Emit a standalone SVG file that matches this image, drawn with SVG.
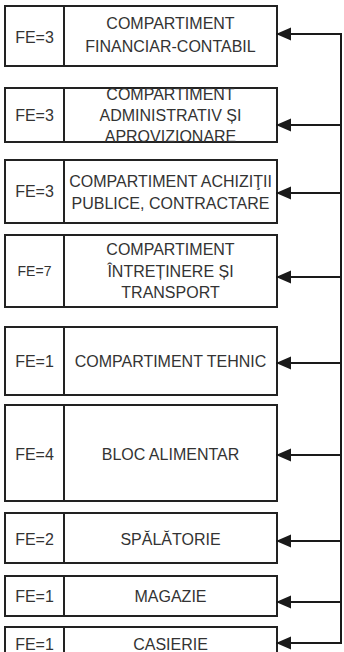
<svg xmlns="http://www.w3.org/2000/svg" width="344" height="652" viewBox="0 0 344 652">
<defs>
<marker id="ah" markerWidth="16" markerHeight="14" refX="15" refY="7" orient="auto" markerUnits="userSpaceOnUse">
<path d="M0,0.5 L15,7 L0,13.5 Z" fill="#1a1a1a"/>
</marker>
<style>
.box{fill:#fff;stroke:#222;stroke-width:2}
.div{stroke:#222;stroke-width:2}
.t{font-family:"Liberation Sans",Arial,sans-serif;font-size:16px;fill:#333;text-anchor:middle}
.fe{font-family:"Liberation Sans",Arial,sans-serif;font-size:16px;fill:#333;text-anchor:middle}
.con{stroke:#1a1a1a;stroke-width:2;fill:none}
</style>
</defs>
<rect width="344" height="652" fill="#fff"/>
<g id="n1"><rect class="box" x="5" y="6" width="272" height="60"/><line class="div" x1="64" y1="6" x2="64" y2="66"/><text class="fe" x="34.5" y="43">FE=3</text><text class="t" x="170.5" y="29">COMPARTIMENT</text><text class="t" x="170.5" y="52">FINANCIAR-CONTABIL</text></g>
<g id="n2"><rect class="box" x="5" y="88" width="272" height="54"/><line class="div" x1="64" y1="88" x2="64" y2="142"/><text class="fe" x="34.5" y="121">FE=3</text><text class="t" x="170.5" y="100">COMPARTIMENT</text><text class="t" x="170.5" y="121">ADMINISTRATIV ȘI</text><text class="t" x="170.5" y="142">APROVIZIONARE</text></g>
<g id="n3"><rect class="box" x="5" y="160" width="272" height="63"/><line class="div" x1="64" y1="160" x2="64" y2="223"/><text class="fe" x="34.5" y="197">FE=3</text><text class="t" x="170.5" y="187">COMPARTIMENT ACHIZIŢII</text><text class="t" x="170.5" y="209">PUBLICE, CONTRACTARE</text></g>
<g id="n4"><rect class="box" x="5" y="235" width="272" height="72"/><line class="div" x1="64" y1="235" x2="64" y2="307"/><text class="fe" x="34.5" y="276" style="font-size:14px">FE=7</text><text class="t" x="170.5" y="255">COMPARTIMENT</text><text class="t" x="170.5" y="277">ÎNTREȚINERE ȘI</text><text class="t" x="170.5" y="298">TRANSPORT</text></g>
<g id="n5"><rect class="box" x="5" y="327" width="272" height="68"/><line class="div" x1="64" y1="327" x2="64" y2="395"/><text class="fe" x="34.5" y="367">FE=1</text><text class="t" x="170.5" y="367">COMPARTIMENT TEHNIC</text></g>
<g id="n6"><rect class="box" x="5" y="405" width="272" height="96"/><line class="div" x1="64" y1="405" x2="64" y2="501"/><text class="fe" x="34.5" y="460">FE=4</text><text class="t" x="170.5" y="460">BLOC ALIMENTAR</text></g>
<g id="n7"><rect class="box" x="5" y="513" width="272" height="50"/><line class="div" x1="64" y1="513" x2="64" y2="563"/><text class="fe" x="34.5" y="545">FE=2</text><text class="t" x="170.5" y="545">SPĂLĂTORIE</text></g>
<g id="n8"><rect class="box" x="5" y="576" width="272" height="40"/><line class="div" x1="64" y1="576" x2="64" y2="616"/><text class="fe" x="34.5" y="602">FE=1</text><text class="t" x="170.5" y="602">MAGAZIE</text></g>
<g id="n9"><rect class="box" x="5" y="627" width="272" height="30"/><line class="div" x1="64" y1="627" x2="64" y2="657"/><text class="fe" x="34.5" y="650">FE=1</text><text class="t" x="170.5" y="650">CASIERIE</text></g>
<g id="connectors">
<path class="con" d="M341,34 L341,643"/>
<line class="con" x1="342" y1="34" x2="276" y2="34" marker-end="url(#ah)"/>
<line class="con" x1="342" y1="125" x2="276" y2="125" marker-end="url(#ah)"/>
<line class="con" x1="342" y1="193" x2="276" y2="193" marker-end="url(#ah)"/>
<line class="con" x1="342" y1="277" x2="276" y2="277" marker-end="url(#ah)"/>
<line class="con" x1="342" y1="363" x2="276" y2="363" marker-end="url(#ah)"/>
<line class="con" x1="342" y1="455" x2="276" y2="455" marker-end="url(#ah)"/>
<line class="con" x1="342" y1="541" x2="276" y2="541" marker-end="url(#ah)"/>
<line class="con" x1="342" y1="602" x2="276" y2="602" marker-end="url(#ah)"/>
<line class="con" x1="342" y1="643" x2="276" y2="643" marker-end="url(#ah)"/>
</g>
</svg>
